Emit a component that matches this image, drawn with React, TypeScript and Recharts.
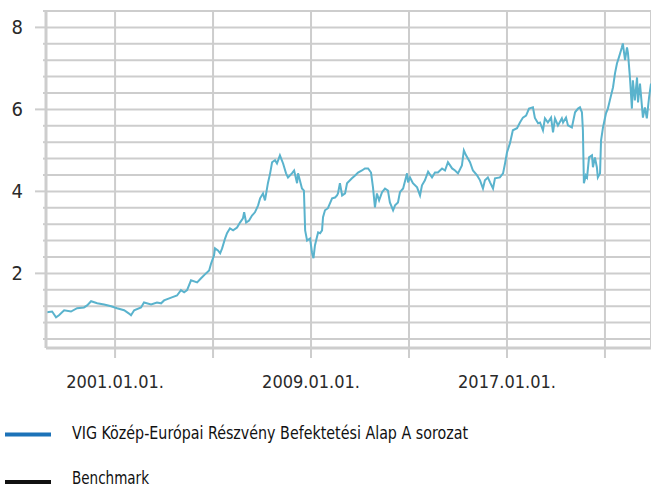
import { LineChart, Line, XAxis, YAxis, CartesianGrid } from 'recharts';

// decimal years
const dates = [
  1998.22, 1998.43, 1998.59, 1998.71, 1998.92, 1999.2, 1999.45, 1999.73, 1999.86, 2000.02,
  2000.27, 2000.55, 2000.84, 2001.08, 2001.37, 2001.57, 2001.65, 2001.78, 2002.06, 2002.18,
  2002.47, 2002.71, 2002.88, 2003.0, 2003.29, 2003.53, 2003.69, 2003.82, 2003.94, 2004.1,
  2004.35, 2004.51, 2004.71, 2004.84, 2004.92, 2005.04, 2005.08, 2005.2, 2005.29, 2005.37,
  2005.49, 2005.57, 2005.69, 2005.82, 2005.98, 2006.1, 2006.22, 2006.27, 2006.35, 2006.47,
  2006.59, 2006.71, 2006.84, 2006.92, 2007.04, 2007.12, 2007.24, 2007.33, 2007.41, 2007.53,
  2007.61, 2007.73, 2007.86, 2007.98, 2008.06, 2008.22, 2008.31, 2008.43, 2008.47, 2008.63,
  2008.71, 2008.76, 2008.84, 2008.96, 2009.04, 2009.1, 2009.16, 2009.24, 2009.29, 2009.37,
  2009.45, 2009.49, 2009.57, 2009.69, 2009.86, 2009.98, 2010.06, 2010.1, 2010.18, 2010.27,
  2010.39, 2010.47, 2010.67, 2010.8, 2010.92, 2011.08, 2011.2, 2011.33, 2011.45, 2011.53,
  2011.61, 2011.69, 2011.78, 2011.9, 2012.02, 2012.14, 2012.22, 2012.35, 2012.43, 2012.55,
  2012.63, 2012.76, 2012.92, 2012.96, 2013.04, 2013.16, 2013.33, 2013.45, 2013.53, 2013.65,
  2013.78, 2013.94, 2014.06, 2014.18, 2014.35, 2014.47, 2014.59, 2014.76, 2014.88, 2015.0,
  2015.16, 2015.24, 2015.33, 2015.49, 2015.61, 2015.78, 2015.9, 2016.02, 2016.1, 2016.22,
  2016.31, 2016.43, 2016.51, 2016.71, 2016.84, 2016.92, 2017.0, 2017.12, 2017.24, 2017.41,
  2017.53, 2017.65, 2017.78, 2017.9, 2018.06, 2018.14, 2018.27, 2018.35, 2018.47, 2018.55,
  2018.67, 2018.8, 2018.88, 2018.96, 2019.08, 2019.24, 2019.29, 2019.41, 2019.49, 2019.65,
  2019.78, 2019.9, 2019.98, 2020.06, 2020.1, 2020.14, 2020.22, 2020.27, 2020.35, 2020.47,
  2020.51, 2020.59, 2020.67, 2020.71, 2020.8, 2020.84, 2020.92, 2021.04, 2021.12, 2021.2,
  2021.33, 2021.41, 2021.49, 2021.57, 2021.69, 2021.73, 2021.82, 2021.9, 2021.94, 2022.02,
  2022.1, 2022.14, 2022.22, 2022.31, 2022.35, 2022.43, 2022.55, 2022.63, 2022.71, 2022.8,
  2022.88,
];

const navValues = [
  1.05, 1.07, 0.93, 0.98, 1.1, 1.07, 1.15, 1.17, 1.22, 1.32,
  1.27, 1.24, 1.2, 1.15, 1.1, 1.02, 0.98, 1.1, 1.17, 1.29,
  1.24, 1.29, 1.27, 1.34, 1.41, 1.46, 1.59, 1.54, 1.59, 1.83,
  1.78, 1.88, 2.0, 2.07, 2.24, 2.44, 2.61, 2.56, 2.49, 2.61,
  2.85, 2.98, 3.1, 3.05, 3.12, 3.24, 3.34, 3.49, 3.24, 3.29,
  3.41, 3.49, 3.66, 3.83, 3.95, 3.78, 4.2, 4.44, 4.71, 4.76,
  4.68, 4.88, 4.68, 4.44, 4.34, 4.44, 4.51, 4.2, 4.44, 4.07,
  4.02, 3.05, 2.8, 2.85, 2.51, 2.37, 2.68, 2.88, 3.0, 2.98,
  3.05, 3.37, 3.54, 3.59, 3.83, 3.85, 3.9, 3.95, 4.2, 3.9,
  3.95, 4.2, 4.32, 4.39, 4.46, 4.51, 4.56, 4.56, 4.46, 4.1,
  3.61, 3.95, 3.78, 3.98, 4.07, 4.02, 3.73, 3.54, 3.66, 3.73,
  3.98, 4.07, 4.44, 4.22, 4.34, 4.2, 4.1, 3.9, 4.15, 4.27,
  4.48, 4.34, 4.46, 4.46, 4.56, 4.51, 4.71, 4.56, 4.51, 4.44,
  4.63, 5.0, 4.88, 4.71, 4.51, 4.39, 4.27, 4.07, 4.27, 4.34,
  4.22, 4.07, 4.32, 4.34, 4.44, 4.68, 4.95, 5.17, 5.49, 5.54,
  5.68, 5.8, 5.85, 6.02, 6.05, 5.79, 5.66, 5.68, 5.49, 5.78,
  5.68, 5.8, 5.44, 5.78, 5.61, 5.78, 5.68, 5.8, 5.61, 5.56,
  5.93, 6.02, 6.05, 5.93, 5.49, 4.2, 4.39, 4.34, 4.83, 4.88,
  4.59, 4.83, 4.59, 4.34, 4.44, 5.24, 5.56, 5.9, 6.02, 6.22,
  6.54, 6.88, 7.12, 7.27, 7.51, 7.61, 7.2, 7.51, 7.37, 6.78,
  6.02, 6.71, 6.22, 6.78, 6.17, 6.63, 5.8, 6.05, 5.78, 6.29,
  6.63,
];

const yTicks = [0.4, 0.8, 1.2, 1.6, 2, 2.4, 2.8, 3.2, 3.6, 4, 4.4, 4.8, 5.2, 5.6, 6, 6.4, 6.8, 7.2, 7.6, 8, 8.4];
const xTicks = [2001, 2005, 2009, 2013, 2017, 2021];
const labelledYears = [2001, 2009, 2017];

const fundName = 'VIG Közép-Európai Részvény Befektetési Alap A sorozat';
const benchmarkName = 'Benchmark';

const data = dates.map((t, i) => ({ t, nav: navValues[i] }));

const gridColor = '#cdcdcd';
const axisFont = '"DejaVu Sans Condensed", "DejaVu Sans", sans-serif';

function YTick(props: any) {
  const { x, y, payload } = props;
  const v = payload.value;
  const isMajor = Math.abs(v - Math.round(v)) < 1e-6 && Math.round(v) % 2 === 0;
  return (
    <g>
      <line x1={x - (isMajor ? 11 : 3)} x2={x} y1={y} y2={y} stroke={gridColor} strokeWidth={2} />
      {isMajor && (
        <text x={x - 23} y={y} dy={7} textAnchor="end" fontSize={20} fill="#2a2a2a" fontFamily={axisFont}>
          {Math.round(v)}
        </text>
      )}
    </g>
  );
}

function XTick(props: any) {
  const { x, y, payload } = props;
  const year = payload.value;
  return (
    <g>
      <line x1={x} x2={x} y1={y} y2={y + 10} stroke={gridColor} strokeWidth={2} />
      {labelledYears.includes(year) && (
        <text x={x} y={y + 40} textAnchor="middle" fontSize={18} fill="#2a2a2a" fontFamily={axisFont}>
          {`${year}.01.01.`}
        </text>
      )}
    </g>
  );
}

export default function App() {
  return (
    <div style={{ position: 'absolute', left: 0, top: 0, width: 651, height: 487, overflow: 'hidden', background: '#fff' }}>
      <LineChart width={651} height={400} data={data} margin={{ top: 11, right: 0, bottom: 0, left: 0 }}>
        <CartesianGrid stroke={gridColor} strokeWidth={2} />
        <XAxis
          dataKey="t"
          type="number"
          domain={[1998.18, 2022.88]}
          allowDataOverflow
          ticks={xTicks}
          interval={0}
          height={52}
          tickSize={0}
          tickMargin={0}
          tickLine={false}
          axisLine={{ stroke: gridColor, strokeWidth: 3 }}
          tick={<XTick />}
        />
        <YAxis
          type="number"
          domain={[0.18, 8.4]}
          allowDataOverflow
          ticks={yTicks}
          interval={0}
          width={46}
          tickSize={0}
          tickMargin={0}
          tickLine={false}
          axisLine={{ stroke: gridColor, strokeWidth: 3 }}
          tick={<YTick />}
        />
        <Line
          type="linear"
          dataKey="nav"
          name={fundName}
          stroke="#5ab3cd"
          strokeWidth={2}
          dot={false}
          isAnimationActive={false}
        />
      </LineChart>
      {/* legend, drawn by hand under the plot */}
      <svg width={651} height={87} style={{ position: 'absolute', left: 0, top: 400 }}>
        <line x1={5} x2={51} y1={34.5} y2={34.5} stroke="#1c72b8" strokeWidth={4} />
        <text x={72} y={39} fontSize={18} fill="#111" fontFamily={axisFont} textLength={396} lengthAdjust="spacingAndGlyphs">
          {fundName}
        </text>
        <line x1={5} x2={51} y1={82} y2={82} stroke="#111" strokeWidth={4} />
        <text x={72} y={84} fontSize={18} fill="#111" fontFamily={axisFont} textLength={77} lengthAdjust="spacingAndGlyphs">
          {benchmarkName}
        </text>
      </svg>
    </div>
  );
}
